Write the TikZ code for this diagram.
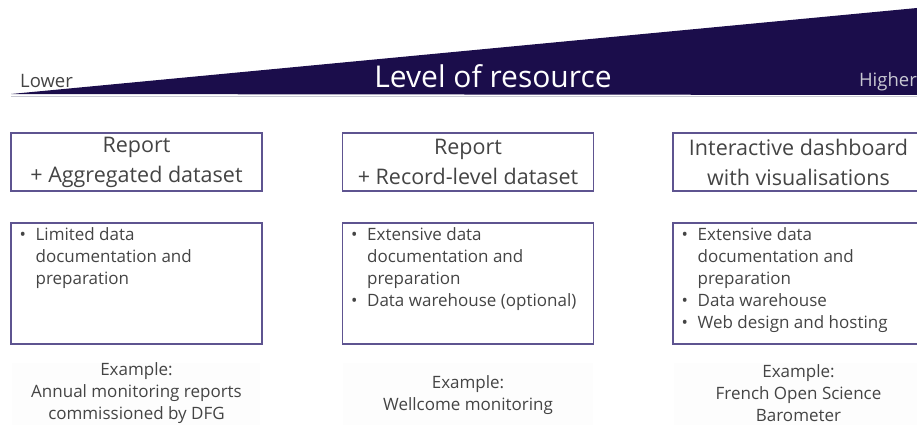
\documentclass[tikz,border=0pt]{standalone}
\usepackage{fontspec}
\setmainfont{Open Sans}
\definecolor{navy}{HTML}{1B0D4B}
\definecolor{framec}{HTML}{5E5490}
\definecolor{textc}{HTML}{444444}
\definecolor{pale}{HTML}{C8C8D2}
\definecolor{haze}{HTML}{FDFDFD}
\newcommand{\bitem}[1]{\makebox[16pt][l]{\textbullet}#1}
\newcommand{\bcont}[1]{\hspace*{16pt}#1}
\tikzset{
  titlebox/.style={draw=framec, line width=1.1pt, minimum width=251pt, minimum height=58pt,
    align=center, text=textc, font=\fontsize{21.5}{30}\selectfont, inner sep=0pt},
  detailbox/.style={draw=framec, line width=1.1pt, minimum width=251pt, minimum height=121pt},
  bullets/.style={anchor=north west, align=left, text=textc, inner sep=0pt,
    font=\fontsize{17}{22}\selectfont},
  example/.style={align=center, text=textc, inner sep=0pt, font=\fontsize{17}{22}\selectfont}
}
\begin{document}
\begin{tikzpicture}[x=1pt,y=-1pt]
\useasboundingbox (0,0) rectangle (917,425);

% resource wedge
\fill[navy] (11,94) -- (917,8) -- (917,95) -- cycle;
\draw[pale, line width=0.8pt] (11,96) -- (917,96);
\node[anchor=base west, inner sep=0pt, text=textc, font=\fontsize{18.5}{20}\selectfont] (lower) at (20,88) {Lower};
\node[anchor=base, inner sep=0pt, text=white, font=\fontsize{30}{32}\selectfont] (level) at (493,88) {Level of resource};
\node[anchor=base east, inner sep=0pt, text=pale, font=\fontsize{18.5}{20}\selectfont] (higher) at (917,87) {Higher};

% output types
\node[titlebox] (t1) at (136.5,162) {Report\\+ Aggregated dataset};
\node[titlebox] (t2) at (468,162) {Report\\+ Record-level dataset};
\node[titlebox] (t3) at (798.5,162) {Interactive dashboard\\with visualisations};

% resource requirements
\node[detailbox] (d1) at (136.5,283.5) {};
\node[detailbox] (d2) at (468,283.5) {};
\node[detailbox] (d3) at (798.5,283.5) {};

\node[bullets] (b1) at ([xshift=9pt,yshift=-5pt]d1.north west)
  {\bitem{Limited data}\\\bcont{documentation and}\\\bcont{preparation}};
\node[bullets] (b2) at ([xshift=9pt,yshift=-5pt]d2.north west)
  {\bitem{Extensive data}\\\bcont{documentation and}\\\bcont{preparation}\\\bitem{Data warehouse (optional)}};
\node[bullets] (b3) at ([xshift=9pt,yshift=-5pt]d3.north west)
  {\bitem{Extensive data}\\\bcont{documentation and}\\\bcont{preparation}\\\bitem{Data warehouse}\\\bitem{Web design and hosting}};

% examples on a faint panel
\fill[haze] (12,363) rectangle (260,425);
\fill[haze] (343,363) rectangle (593,425);
\fill[haze] (674,363) rectangle (917,425);
\node[example] (e1) at (136.5,393) {Example:\\Annual monitoring reports\\commissioned by DFG};
\node[example] (e2) at (468,395) {Example:\\Wellcome monitoring};
\node[example] (e3) at (798.5,393) {Example:\\French Open Science\\Barometer};
\end{tikzpicture}
\end{document}
